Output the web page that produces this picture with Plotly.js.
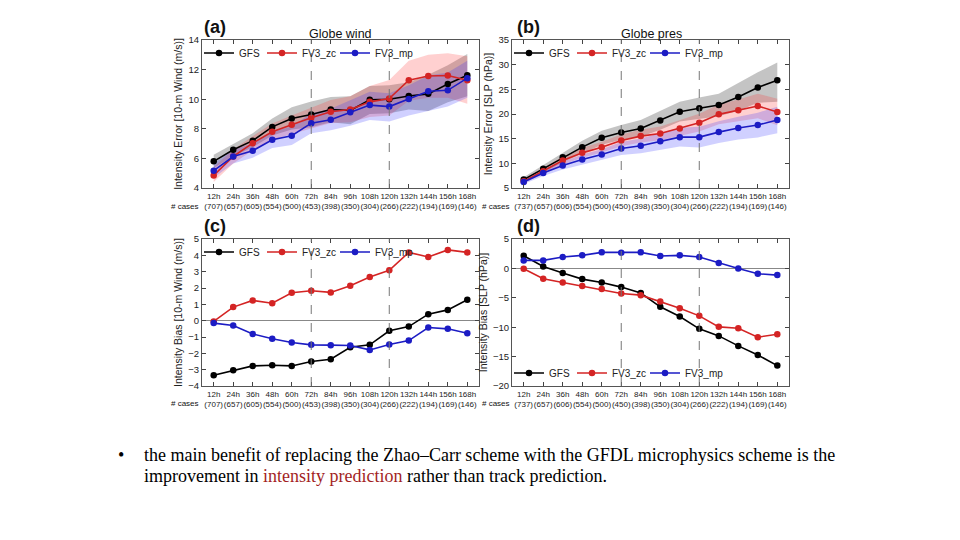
<!DOCTYPE html>
<html><head><meta charset="utf-8">
<script src="https://cdn.plot.ly/plotly-3.0.1.min.js"></script>
<style>html,body{margin:0;padding:0;background:#fff}#chart{width:960px;height:540px}</style>
</head><body><div id="chart"></div>
<script>
// ---------- data ----------
const hours = [12,24,36,48,60,72,84,96,108,120,132,144,156,168];
const casesWind = [707,657,605,554,500,453,398,350,304,266,222,194,169,146];
const casesPres = [737,657,606,554,500,450,398,350,304,266,222,194,169,146];
const dividers = [72,120];
const seriesNames = ['GFS','FV3_zc','FV3_mp'];

// (a) Globe wind — intensity error (m/s)
const windErrGFS   = [5.8,6.58,7.2,8.13,8.7,8.97,9.3,9.24,9.96,10.0,10.22,10.36,11.03,11.62];
const windErrGFSHi = [6.25,7.0,7.7,8.7,9.45,9.85,10.15,10.2,10.9,10.95,11.15,11.65,12.3,13.05];
const windErrGFSLo = [5.35,6.15,6.75,7.55,7.95,8.1,8.45,8.3,9.0,9.05,9.3,9.2,9.8,10.2];
const windErrZC    = [4.85,6.13,7.03,7.8,8.27,8.74,9.15,9.3,9.82,10.04,11.28,11.57,11.6,11.28];
const windErrZCHi  = [5.4,6.6,7.5,8.35,8.9,9.45,9.95,10.2,10.9,11.3,12.6,13.0,13.1,12.9];
const windErrZCLo  = [4.4,5.65,6.55,7.25,7.65,8.05,8.4,8.45,8.8,8.9,9.9,10.1,10.1,9.7];
const windErrMP    = [5.17,6.13,6.52,7.26,7.53,8.38,8.61,9.12,9.6,9.5,10.02,10.54,10.6,11.42];
const windErrMPHi  = [5.65,6.6,7.0,7.8,8.15,9.05,9.35,9.95,10.5,10.4,10.95,11.6,11.8,12.6];
const windErrMPLo  = [4.7,5.65,6.05,6.7,6.9,7.7,7.9,8.2,8.6,8.5,8.9,9.2,9.5,10.1];

// (b) Globe pres — intensity error (hPa)
const presErrGFS   = [6.7,8.9,11.24,13.28,15.18,16.26,17.08,18.7,20.47,21.15,21.83,23.46,25.36,26.85];
const presErrGFSHi = [7.2,9.7,12.24,14.58,16.58,17.76,18.78,20.6,22.47,23.35,24.13,26.26,28.46,30.45];
const presErrGFSLo = [6.2,8.1,10.24,11.98,13.78,14.76,15.38,16.8,18.47,18.95,19.53,20.66,22.26,22.5];
const presErrZC    = [6.35,8.39,10.56,12.12,13.28,14.64,15.52,16.06,17.08,18.23,19.93,20.75,21.63,20.4];
const presErrZCHi  = [6.75,8.99,11.36,13.12,14.38,15.84,16.82,17.46,18.68,20.03,21.93,22.95,24.13,23.1];
const presErrZCLo  = [5.95,7.79,9.76,11.12,12.18,13.44,14.22,14.66,15.48,16.43,17.93,18.55,19.13,17.7];
const presErrMP    = [6.2,8.05,9.54,10.77,11.78,13.0,13.55,14.5,15.31,15.31,16.33,17.15,17.76,18.78];
const presErrMPHi  = [6.6,8.65,10.34,11.77,12.88,14.3,15.05,16.2,17.21,17.41,18.53,19.45,20.26,21.48];
const presErrMPLo  = [5.8,7.45,8.74,9.77,10.68,11.7,12.05,12.8,13.41,13.21,14.13,14.85,15.26,16.08];

// (c) wind bias (m/s)
const windBiasGFS = [-3.34,-3.04,-2.77,-2.73,-2.77,-2.5,-2.36,-1.63,-1.48,-0.62,-0.36,0.4,0.66,1.28];
const windBiasZC  = [-0.05,0.83,1.24,1.07,1.71,1.83,1.73,2.14,2.67,3.08,4.18,3.9,4.33,4.18];
const windBiasMP  = [-0.15,-0.3,-0.81,-1.11,-1.34,-1.48,-1.5,-1.52,-1.79,-1.46,-1.22,-0.42,-0.5,-0.77];

// (d) SLP bias (hPa)
const presBiasGFS = [2.16,0.34,-0.8,-1.82,-2.39,-3.18,-4.2,-6.53,-8.18,-10.28,-11.48,-13.18,-14.72,-16.53];
const presBiasZC  = [-0.06,-1.76,-2.39,-3.0,-3.52,-4.26,-4.55,-5.63,-6.76,-8.07,-9.94,-10.17,-11.7,-11.19];
const presBiasMP  = [1.36,1.36,1.93,2.22,2.73,2.67,2.73,2.1,2.22,1.93,0.91,0.0,-0.91,-1.14];

// ---------- styling ----------
const FONT = 'Liberation Sans, Arial, sans-serif';
const SERIF = 'Liberation Serif, Times New Roman, serif';
const lineColors = ['#000000','#d42424','#1c1cc4'];
const bandColors = ['rgba(70,70,70,0.32)','rgba(255,40,40,0.22)','rgba(40,40,255,0.22)'];
const legendWidths = [18, 28, 34];
const W = 960, H = 540;
const px = (a,b)=>[a/W, b/W];
const py = (top,bot)=>[1-bot/H, 1-top/H];

const panels = [
  {s:'',  leg:'legend',  series:[windErrGFS,windErrZC,windErrMP], bands:[[windErrGFSHi,windErrGFSLo],[windErrZCHi,windErrZCLo],[windErrMPHi,windErrMPLo]]},
  {s:'2', leg:'legend2', series:[presErrGFS,presErrZC,presErrMP], bands:[[presErrGFSHi,presErrGFSLo],[presErrZCHi,presErrZCLo],[presErrMPHi,presErrMPLo]]},
  {s:'3', leg:'legend3', series:[windBiasGFS,windBiasZC,windBiasMP], bands:null},
  {s:'4', leg:'legend4', series:[presBiasGFS,presBiasZC,presBiasMP], bands:null}
];

const traces = [];
panels.forEach(p=>{
  if(p.bands){
    p.bands.forEach((b,i)=>{
      traces.push({
        x: hours.concat(hours.slice().reverse()),
        y: b[0].concat(b[1].slice().reverse()),
        xaxis:'x'+p.s, yaxis:'y'+p.s, type:'scatter', mode:'lines',
        fill:'toself', fillcolor:bandColors[i], line:{width:0},
        hoverinfo:'skip', showlegend:false
      });
    });
  }
  p.series.forEach((v,i)=>{
    traces.push({
      x: hours, y: v, name: seriesNames[i],
      xaxis:'x'+p.s, yaxis:'y'+p.s, type:'scatter', mode:'lines+markers',
      line:{color:lineColors[i], width:1.6}, marker:{color:lineColors[i], size:6.5},
      legend:p.leg, legendwidth:legendWidths[i]
    });
  });
});

function xax(domain, cases, anchor){
  return {domain, anchor, range:[4.8,175.2], tickmode:'array', tickvals:hours,
    ticktext: hours.map((h,i)=>h+'h<br>('+cases[i]+')'), tickangle:0,
    ticks:'inside', ticklen:4, tickcolor:'#444', showline:true, linecolor:'#555', linewidth:1,
    mirror:'allticks', showgrid:false, zeroline:false, tickfont:{family:FONT, size:8, color:'#222'}};
}
function yax(domain, anchor, range, dtick, title, zero){
  return {domain, anchor, range, dtick, ticks:'inside', ticklen:4, tickcolor:'#444', showline:true,
    linecolor:'#555', linewidth:1, mirror:'allticks', showgrid:false,
    zeroline:!!zero, zerolinecolor:'#888', zerolinewidth:1.2,
    tickfont:{family:FONT, size:9.5, color:'#222'},
    title:{text:title, font:{family:FONT, size:10.5, color:'#222'}, standoff:3}};
}

const xa = px(202,479), xb = px(512,789);
const yTop = py(40,188), yBot = py(239,386);

const layout = {
  width:W, height:H, margin:{l:0,r:0,t:0,b:0},
  paper_bgcolor:'#fff', plot_bgcolor:'#fff', showlegend:true,
  font:{family:FONT, color:'#222'},
  xaxis:  xax(xa, casesWind, 'y'),  yaxis:  yax(yTop,'x', [4,14],2,'Intensity Error [10-m Wind (m/s)]'),
  xaxis2: xax(xb, casesPres, 'y2'), yaxis2: yax(yTop,'x2',[5,35],5,'Intensity Error [SLP (hPa)]'),
  xaxis3: xax(xa, casesWind, 'y3'), yaxis3: yax(yBot,'x3',[-4,5],1,'Intensity Bias [10-m Wind (m/s)]',true),
  xaxis4: xax(xb, casesPres, 'y4'), yaxis4: yax(yBot,'x4',[-20,5],5,'Intensity Bias [SLP (hPa)]',true),
  shapes: [],
  annotations: []
};
['','2','3','4'].forEach(s=>{
  dividers.forEach(h=>{
    layout.shapes.push({type:'line', xref:'x'+s, yref:'y'+s+' domain', x0:h, x1:h, y0:0, y1:1,
      line:{color:'#777', width:1, dash:'dash'}});
  });
});
const legBase = {orientation:'h', xanchor:'left', yanchor:'middle', bgcolor:'rgba(0,0,0,0)',
  font:{family:FONT, size:10, color:'#222'}, itemwidth:30, tracegroupgap:0};
layout.legend  = Object.assign({}, legBase, {x:199/W, y:1-53/H});
layout.legend2 = Object.assign({}, legBase, {x:509/W, y:1-53/H});
layout.legend3 = Object.assign({}, legBase, {x:199/W, y:1-252/H});
layout.legend4 = Object.assign({}, legBase, {x:509/W, y:1-373/H});

function ann(text, x, y, size, opts){
  return Object.assign({text, x:x/W, y:1-y/H, xref:'paper', yref:'paper', showarrow:false,
    xanchor:'center', yanchor:'middle', font:{family:FONT, size, color:'#111'}}, opts||{});
}
const serifLeft = {xanchor:'left', align:'left', font:{family:SERIF, size:18, color:'#000'}};
layout.annotations.push(
  ann('<b>(a)</b>', 215, 27, 18),
  ann('<b>(b)</b>', 528, 27, 18),
  ann('<b>(c)</b>', 215, 226, 18),
  ann('<b>(d)</b>', 528, 226, 18),
  ann('Globe wind', 340, 34, 12.5),
  ann('Globe pres', 651, 34, 12.5),
  ann('# cases', 185, 206, 8),
  ann('# cases', 496, 206, 8),
  ann('# cases', 185, 403, 8),
  ann('# cases', 496, 403, 8),
  ann('•', 121, 455, 18, {font:{family:SERIF, size:18, color:'#000'}}),
  ann('the main benefit of replacing the Zhao–Carr scheme with the GFDL microphysics scheme is the', 142, 455, 18, serifLeft),
  ann('improvement in <span style="color:#a31f1f">intensity prediction</span> rather than track prediction.', 142, 476, 18, serifLeft)
);

Plotly.newPlot('chart', traces, layout, {staticPlot:true});
</script></body></html>
